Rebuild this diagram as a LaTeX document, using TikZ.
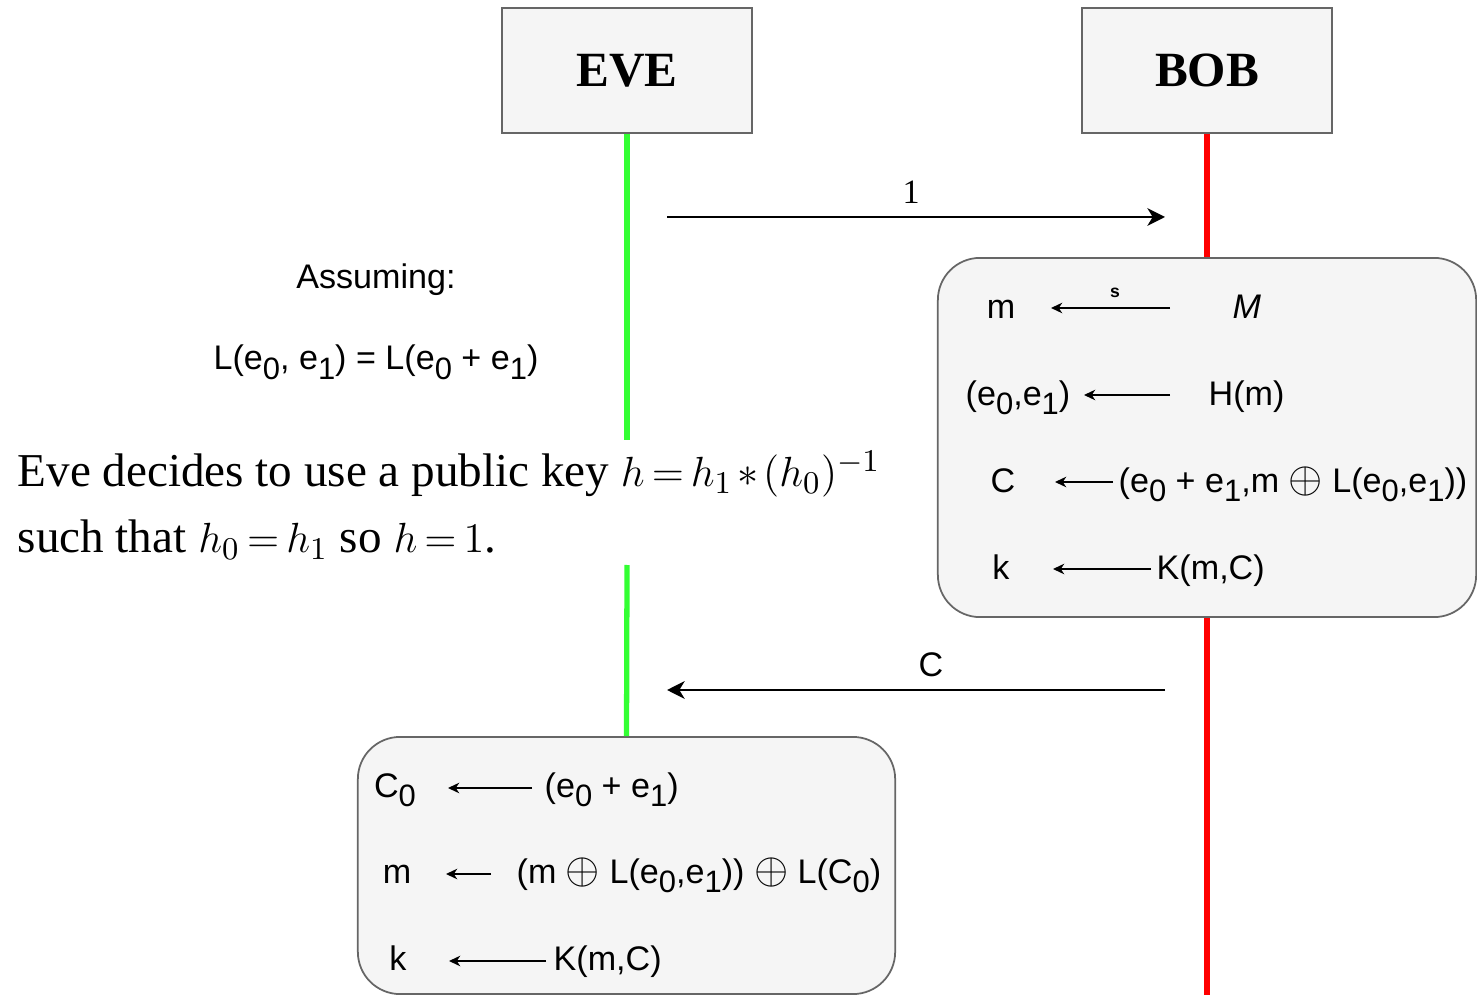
\documentclass[tikz,border=0pt]{standalone}
\usepackage{fontspec}
\setmainfont{Liberation Serif}
\setsansfont{Liberation Sans}
\usetikzlibrary{arrows.meta}
\definecolor{boxfill}{HTML}{F5F5F5}
\definecolor{boxline}{HTML}{666666}
\definecolor{evegreen}{HTML}{33FF33}
\definecolor{bobred}{HTML}{FF0000}
\newcommand{\subidx}[1]{\raisebox{-0.55ex}{\fontsize{8.8}{9}\selectfont #1}}
\newcommand{\xorop}{\scalebox{1.25}{$\oplus$}}
\newcommand{\tightmath}[1]{{\fontsize{13.2}{19}\selectfont\thickmuskip=3mu\medmuskip=2mu$#1$}}

\begin{document}
\begin{tikzpicture}[x=0.01cm,y=-0.01cm,
    actor/.style={draw=boxline,fill=boxfill,line width=0.5pt,minimum width=2.5cm,minimum height=1.25cm,font=\bfseries\fontsize{14}{16}\selectfont},
    calcbox/.style={draw=boxline,fill=boxfill,line width=0.5pt,rounded corners=12pt},
    lbl/.style={font=\sffamily\fontsize{9.7}{11.6}\selectfont,inner sep=0pt},
    msg/.style={line width=0.8pt,-{Stealth[length=5pt,width=5pt,inset=1.5pt]}},
    assign/.style={line width=0.45pt,-{Stealth[length=3.2pt,width=3pt,inset=1pt]}},
    life/.style={line width=1.5pt}]
    \useasboundingbox (0,0) rectangle (1477,995);
    % actors
    \node[actor] (eve) at (627,70.5) {EVE};
    \node[actor] (bob) at (1207,70.5) {BOB};
    % lifelines
    \coordinate (evegap1) at (627,440);
    \coordinate (evegap2) at (627,565);
    \coordinate (bobend) at (1207,995);
    \draw[life,evegreen] (eve.south) -- (evegap1);
    \draw[life,bobred] (1207,617) -- (bobend);
    % messages
    \coordinate (msg1s) at (667,217);
    \coordinate (msg1e) at (1165,217);
    \coordinate (msg2s) at (1165,690);
    \coordinate (msg2e) at (667,690);
    \draw[msg] (msg1s) -- node[pos=0.49,above=3.4pt,inner sep=0pt,font=\fontsize{9.7}{11}\selectfont] (msg1lbl) {1} (msg1e);
    \draw[msg] (msg2s) -- node[pos=0.47,above=3.4pt,lbl] (msg2lbl) {C} (msg2e);
    % Bob computes
    \node[calcbox,minimum width=5.38cm,minimum height=3.59cm] (bobcalc) at (1207,437.5) {};
    \foreach \i/\y/\lx/\ltxt/\rx/\rtxt/\ax/\bx in {
        1/308/1001/m/1232/\textit{M}/1170/1051,
        2/395/1018/{(e\subidx{0},e\subidx{1})}/1208/H(m)/1170/1084,
        3/482/1003/C/1118/{(e\subidx{0} + e\subidx{1},m \xorop{} L(e\subidx{0},e\subidx{1}))}/1113/1055,
        4/569/1001/k/1156/{K(m,C)}/1151/1053}
    {
        \node[lbl,anchor=mid] (bobL\i) at (\lx,\y+2) {\ltxt};
        \node[lbl,anchor=mid west] (bobR\i) at (\rx,\y+2) {\rtxt};
        \coordinate (bobA\i) at (\ax,\y);
        \coordinate (bobB\i) at (\bx,\y);
        \draw[assign] (bobA\i) -- (bobB\i);
    }
    \node[font=\sffamily\bfseries\fontsize{5}{6}\selectfont,inner sep=0pt] (bobsample) at (1115,293) {s};
    \draw[life,bobred] (bob.south) -- (bobcalc.north);
    % Eve computes
    \node[calcbox,minimum width=5.37cm,minimum height=2.57cm] (evecalc) at (626.5,865.5) {};
    \draw[life,evegreen] (evegap2) -- (evecalc.north);
    \foreach \i/\y/\lx/\ltxt/\rx/\rtxt/\ax/\bx in {
        1/788/395/{C\subidx{0}}/544/{(e\subidx{0} + e\subidx{1})}/532/448,
        2/874/397/m/516/{(m \xorop{} L(e\subidx{0},e\subidx{1})) \xorop{} L(C\subidx{0})}/491/446,
        3/961/398/k/553/{K(m,C)}/546/449}
    {
        \node[lbl,anchor=mid] (eveL\i) at (\lx,\y+1) {\ltxt};
        \node[lbl,anchor=mid west] (eveR\i) at (\rx,\y+1) {\rtxt};
        \coordinate (eveA\i) at (\ax,\y);
        \coordinate (eveB\i) at (\bx,\y);
        \draw[assign] (eveA\i) -- (eveB\i);
    }
    % Eve's assumption
    \node[lbl] (assume) at (376,280) {Assuming:};
    \node[lbl] (linear) at (376,362) {L(e\subidx{0}, e\subidx{1}) = L(e\subidx{0} + e\subidx{1})};
    \node[anchor=base west,inner sep=0pt,font=\fontsize{13.4}{19}\selectfont] (pubkey1) at (17,487) {Eve decides to use a public key \tightmath{h = h_1 * (h_0)^{-1}}};
    \node[anchor=base west,inner sep=0pt,font=\fontsize{13.4}{19}\selectfont] (pubkey2) at (17,553) {such that \tightmath{h_0 = h_1} so \tightmath{h = 1}.};
\end{tikzpicture}
\end{document}
